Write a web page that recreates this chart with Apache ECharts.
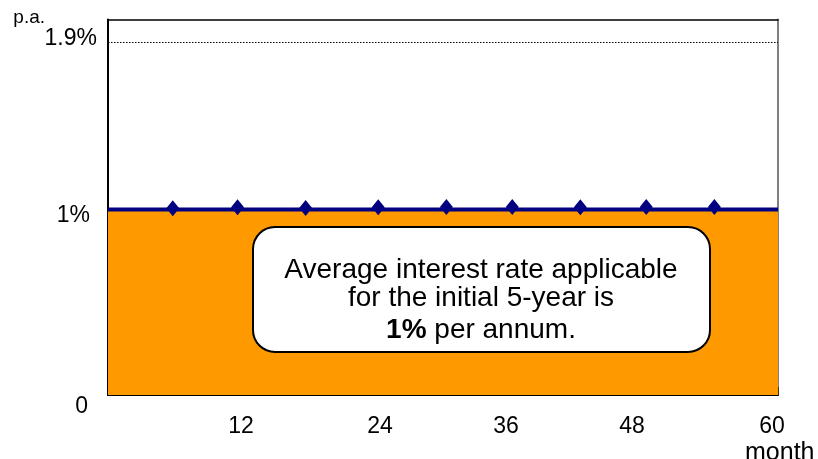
<!DOCTYPE html>
<html>
<head>
<meta charset="utf-8">
<script src="https://cdn.jsdelivr.net/npm/echarts@6/dist/echarts.min.js"></script>
<style>
html,body{margin:0;padding:0;background:#fff;}
#chart{width:818px;height:459px;}
</style>
</head>
<body>
<div id="chart"></div>
<script>
// ---- data ----
const rateMonths = [0, 60];
const rateValues = [1, 1];
const pointMonths = [5.8, 11.6, 17.7, 24.2, 30.3, 36.2, 42.3, 48.2, 54.3];
const pointValues = [1.006, 1.012, 1.008, 1.012, 1.013, 1.013, 1.012, 1.013, 1.013];
const xTickValues = [12, 24, 36, 48, 60];
const xTickLabels = ['12', '24', '36', '48', '60'];
const yTickValues = [0, 1, 1.9];
const yTickLabels = ['0', '1%', '1.9%'];
const refLineValue = 1.9;
const noteLines = ['Average interest rate applicable', 'for the initial 5-year is'];
const noteRate = '1%';
const noteTail = ' per annum.';

const AXIS_FONT = '"Liberation Sans", Arial, sans-serif';
const TEXT_FONT = '"Liberation Sans", Arial, sans-serif';

const chart = echarts.init(document.getElementById('chart'), null, {renderer: 'canvas'});

const xRich = {
  x12: {padding: [0, 2, 0, 0]},
  x24: {padding: [0, 0, 0, 8]},
  x36: {padding: [0, 8, 0, 0]},
  x48: {padding: [0, 24, 0, 0]},
  x60: {padding: [0, 12, 0, 0]}
};
const yRich = {
  y0: {padding: [24, 20, 0, 0]},
  y1: {padding: [13, 18, 0, 0]},
  y19: {padding: [0, 11, 7, 0]}
};

const areaData = rateMonths.map((m, i) => [m, rateValues[i]]);
const pointData = pointMonths.map((m, i) => [m, pointValues[i]]);

const NOTE_SIZE = 28;

const option = {
  animation: false,
  backgroundColor: '#fff',
  grid: {
    left: 108, right: 40, top: 19.5, bottom: 64,
    containLabel: false,
    outerBoundsMode: 'none'
  },
  xAxis: [{
    type: 'value', position: 'bottom',
    min: 0, max: 60, interval: 6,
    name: 'month', nameLocation: 'end', nameGap: -33,
    nameTextStyle: {
      fontFamily: TEXT_FONT, fontSize: 25, color: '#000',
      align: 'left', verticalAlign: 'top', padding: [46, 0, 0, 0]
    },
    axisLine: {show: true, onZero: false, lineStyle: {color: '#000', width: 2}},
    axisTick: {show: true, inside: true, length: 8, lineStyle: {color: '#4a3000', width: 1}},
    splitLine: {show: false},
    axisLabel: {
      show: true, margin: 20,
      fontFamily: AXIS_FONT, fontSize: 23, color: '#000',
      formatter: function (v) {
        const i = xTickValues.indexOf(v);
        if (i < 0) return '';
        return '{x' + xTickValues[i] + '|' + xTickLabels[i] + '}';
      },
      rich: xRich
    }
  }, {
    type: 'value', position: 'top',
    min: 0, max: 60,
    axisLine: {show: true, onZero: false, lineStyle: {color: '#000', width: 1.5}},
    axisTick: {show: false}, axisLabel: {show: false}, splitLine: {show: false}
  }],
  yAxis: [{
    type: 'value', position: 'left',
    min: 0, max: 2.024,
    name: 'p.a.', nameLocation: 'end', nameGap: -14,
    nameTextStyle: {
      fontFamily: TEXT_FONT, fontSize: 19, color: '#000',
      align: 'right', verticalAlign: 'middle', padding: [0, 63, 0, 0]
    },
    axisLine: {show: true, onZero: false, lineStyle: {color: '#000', width: 2}},
    axisTick: {show: false},
    splitLine: {show: false},
    axisLabel: {
      show: true, margin: 0,
      customValues: yTickValues,
      fontFamily: AXIS_FONT, fontSize: 23, color: '#000',
      formatter: function (v) {
        let i = -1;
        yTickValues.forEach((t, k) => { if (Math.abs(t - v) < 1e-6) i = k; });
        if (i < 0) return '';
        const key = i === 0 ? 'y0' : (i === 1 ? 'y1' : 'y19');
        return '{' + key + '|' + yTickLabels[i] + '}';
      },
      rich: yRich
    }
  }, {
    type: 'value', position: 'right',
    min: 0, max: 2.024,
    axisLine: {show: true, onZero: false, lineStyle: {color: '#808080', width: 2}},
    axisTick: {show: false}, axisLabel: {show: false}, splitLine: {show: false}
  }],
  series: [{
    type: 'line',
    data: areaData,
    xAxisIndex: 0, yAxisIndex: 0,
    symbol: 'none',
    lineStyle: {color: '#000080', width: 4},
    areaStyle: {color: '#FF9900', opacity: 1},
    z: 2,
    markLine: {
      silent: true,
      symbol: ['none', 'none'],
      label: {show: false},
      lineStyle: {color: '#000', type: [1.5, 1.5], width: 1},
      data: [{yAxis: refLineValue}]
    }
  }, {
    type: 'scatter',
    data: pointData,
    xAxisIndex: 0, yAxisIndex: 0,
    symbol: 'diamond',
    symbolSize: [13, 16],
    itemStyle: {color: '#000080', opacity: 1},
    z: 3
  }],
  graphic: [{
    type: 'group',
    left: 252, top: 226, z: 100,
    children: [{
      type: 'rect', z: 100,
      shape: {x: 0, y: 0, width: 457, height: 125, r: 22},
      style: {fill: '#fff', stroke: '#000', lineWidth: 2}
    }, {
      type: 'text', z: 101,
      x: 228, y: 43,
      style: {
        text: noteLines[0], fontFamily: TEXT_FONT, fontSize: NOTE_SIZE,
        fill: '#000', align: 'center', verticalAlign: 'middle'
      }
    }, {
      type: 'text', z: 101,
      x: 228, y: 71,
      style: {
        text: noteLines[1], fontFamily: TEXT_FONT, fontSize: NOTE_SIZE,
        fill: '#000', align: 'center', verticalAlign: 'middle'
      }
    }, {
      type: 'text', z: 101,
      x: 228, y: 103,
      style: {
        text: '{b|' + noteRate + '}{n|' + noteTail + '}',
        fontFamily: TEXT_FONT, fontSize: NOTE_SIZE,
        fill: '#000', align: 'center', verticalAlign: 'middle',
        rich: {
          b: {fontFamily: TEXT_FONT, fontSize: NOTE_SIZE, fontWeight: 'bold', fill: '#000'},
          n: {fontFamily: TEXT_FONT, fontSize: NOTE_SIZE, fill: '#000'}
        }
      }
    }]
  }]
};

chart.setOption(option);
</script>
</body>
</html>
